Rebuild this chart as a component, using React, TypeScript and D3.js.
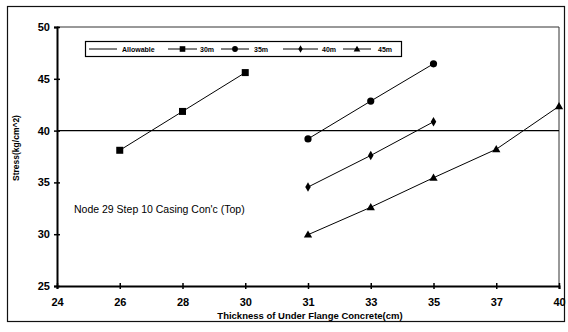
import React, { useEffect, useRef } from 'react';
import * as d3 from 'd3';

const categories = ['24', '26', '28', '30', '31', '33', '35', '37', '40'];
const yTicks = [25, 30, 35, 40, 45, 50];

const allowable = [40, 40, 40, 40, 40, 40, 40, 40, 40];
const s30 = [null, 38.1, 41.85, 45.6, null, null, null, null, null];
const s35 = [null, null, null, null, 39.2, 42.85, 46.45, null, null];
const s40 = [null, null, null, null, 34.55, 37.6, 40.85, null, null];
const s45 = [null, null, null, null, 29.95, 32.6, 35.45, 38.2, 42.35];

const seriesNames = ['Allowable', '30m', '35m', '40m', '45m'];
const seriesValues = [allowable, s30, s35, s40, s45];
const markerTypes = ['none', 'square', 'circle', 'diamond', 'triangle'];

const FONT = '"Liberation Sans", Arial, sans-serif';

const App = () => {
  const svgRef = useRef<SVGSVGElement>(null);

  useEffect(() => {
    const W = 568;
    const H = 332;
    const svg = d3.select(svgRef.current).attr('width', W).attr('height', H);
    svg.selectAll('*').remove();

    const left = 57, right = 559, top = 27, bottom = 286;

    const x = d3.scalePoint<string>().domain(categories).range([left, right]).padding(0);
    const y = d3.scaleLinear().domain([25, 50]).range([bottom, top]);

    svg.append('rect').attr('width', W).attr('height', H).attr('fill', '#fff');

    // outer frame
    svg.append('rect')
      .attr('x', 7.5).attr('y', 6.5).attr('width', 557).attr('height', 315)
      .attr('fill', 'none').attr('stroke', '#111').attr('stroke-width', 1.2);

    // plot area border (top/right)
    svg.append('path')
      .attr('d', `M${left},${top}H${right}V${bottom}`)
      .attr('fill', 'none').attr('stroke', '#333').attr('stroke-width', 1);

    // axes
    const yAxis = d3.axisLeft(y).tickValues(yTicks).tickSize(3).tickPadding(4).tickFormat(d3.format('d'));
    const gy = svg.append('g').attr('transform', `translate(${left},0)`).call(yAxis);
    gy.select('.domain').attr('stroke', '#000').attr('stroke-width', 2);
    gy.selectAll('.tick line').attr('x2', 3).attr('x1', -3).attr('stroke-width', 1.5);
    gy.selectAll('text').attr('font-family', FONT).attr('font-weight', 'bold').attr('font-size', 11).attr('fill', '#000');

    const xAxis = d3.axisBottom(x).tickSize(3).tickPadding(9);
    const gx = svg.append('g').attr('transform', `translate(0,${bottom})`).call(xAxis);
    gx.select('.domain').attr('stroke', '#000').attr('stroke-width', 2);
    gx.selectAll('.tick line').attr('y1', -3).attr('y2', 3).attr('stroke-width', 1.5);
    gx.selectAll('text').attr('font-family', FONT).attr('font-weight', 'bold').attr('font-size', 11).attr('fill', '#000');

    // axis titles
    svg.append('text')
      .attr('x', 310).attr('y', 319)
      .attr('text-anchor', 'middle')
      .attr('font-family', FONT).attr('font-weight', 'bold').attr('font-size', 9.5).attr('fill', '#000')
      .text('Thickness of Under Flange Concrete(cm)');
    svg.append('text')
      .attr('transform', 'translate(19,148) rotate(-90)')
      .attr('text-anchor', 'middle')
      .attr('font-family', FONT).attr('font-weight', 'bold').attr('font-size', 8.5).attr('fill', '#000')
      .text('Stress(kg/cm^2)');

    // annotation
    svg.append('text')
      .attr('x', 74).attr('y', 213)
      .attr('font-family', FONT).attr('font-size', 10.5).attr('fill', '#000')
      .text("Node 29 Step 10 Casing Con'c (Top)");

    const drawMarker = (g: any, type: string, cx: number, cy: number, k = 1) => {
      if (type === 'square') {
        const s = 7 * k;
        g.append('rect').attr('x', cx - s / 2).attr('y', cy - s / 2).attr('width', s).attr('height', s).attr('fill', '#000');
      } else if (type === 'circle') {
        g.append('circle').attr('cx', cx).attr('cy', cy).attr('r', 3.6 * k).attr('fill', '#000');
      } else if (type === 'diamond') {
        g.append('path').attr('d', d3.symbol(d3.symbolDiamond, 26 * k * k)()).attr('transform', `translate(${cx},${cy})`).attr('fill', '#000');
      } else if (type === 'triangle') {
        g.append('path').attr('d', d3.symbol(d3.symbolTriangle, 30 * k * k)()).attr('transform', `translate(${cx},${cy + 0.5})`).attr('fill', '#000');
      }
    };

    const line = d3.line<any>()
      .defined((d) => d.v != null)
      .x((d) => x(d.c) as number)
      .y((d) => y(d.v));

    seriesValues.forEach((vals, i) => {
      const pts = categories.map((c, j) => ({ c, v: vals[j] }));
      const g = svg.append('g');
      g.append('path')
        .attr('d', line(pts))
        .attr('fill', 'none')
        .attr('stroke', '#000')
        .attr('stroke-width', i === 0 ? 1.4 : 1);
      pts.filter((p) => p.v != null).forEach((p) => {
        drawMarker(g, markerTypes[i], x(p.c) as number, y(p.v as number));
      });
    });

    // legend
    const lg = svg.append('g');
    lg.append('rect')
      .attr('x', 85.5).attr('y', 41.5).attr('width', 316).attr('height', 15)
      .attr('fill', '#fff').attr('stroke', '#000').attr('stroke-width', 1.2);
    const items = [
      { x1: 89, x2: 117, tx: 122 },
      { x1: 168, x2: 197, tx: 200 },
      { x1: 221, x2: 249, tx: 254 },
      { x1: 283, x2: 318, tx: 322 },
      { x1: 343, x2: 371, tx: 378 },
    ];
    items.forEach((it, i) => {
      const cy = 49;
      lg.append('line').attr('x1', it.x1).attr('x2', it.x2).attr('y1', cy).attr('y2', cy)
        .attr('stroke', '#000').attr('stroke-width', 1);
      if (i > 0) {
        const g = lg.append('g');
        drawMarker(g, markerTypes[i], (it.x1 + it.x2) / 2, cy, 0.8);
      }
      lg.append('text')
        .attr('x', it.tx).attr('y', cy + 2.5)
        .attr('font-family', FONT).attr('font-weight', 'bold').attr('font-size', 7).attr('fill', '#000')
        .text(seriesNames[i]);
    });
  }, []);

  return (
    <div style={{ position: 'absolute', left: 0, top: 0 }}>
      <svg ref={svgRef}></svg>
    </div>
  );
};

export default App;
